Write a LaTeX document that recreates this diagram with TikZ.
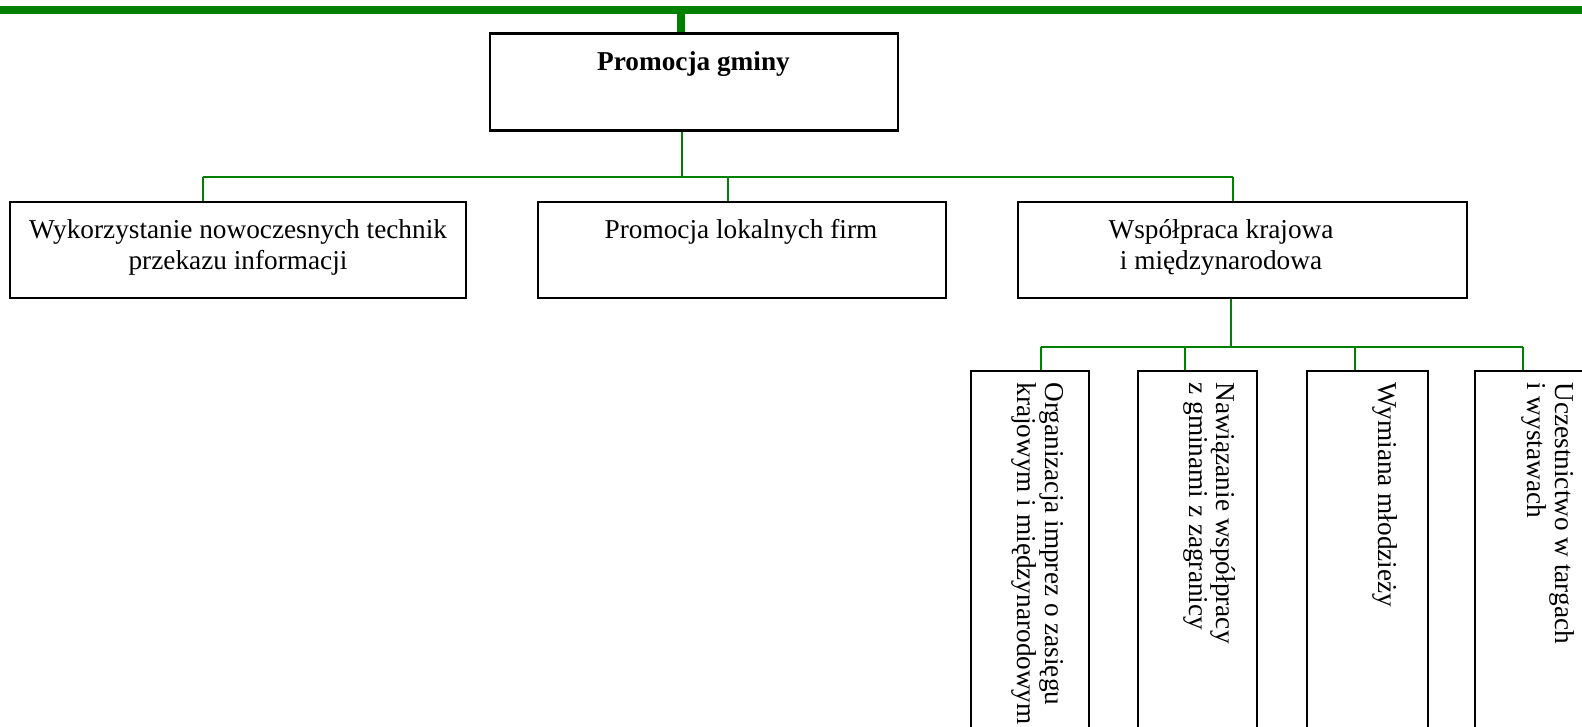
\documentclass[tikz,border=0pt]{standalone}
\usepackage{fontspec}
\setmainfont{Liberation Serif}
\usetikzlibrary{positioning}
\definecolor{leafgreen}{HTML}{008000}
\newcommand{\pxu}{0.44pt}

\begin{document}
\begin{tikzpicture}[x=0.44pt, y=-0.44pt,
    box/.style={draw, line width=0.9pt, inner sep=0pt},
    lbl/.style={font=\fontsize{12}{13.6}\selectfont, align=center, inner sep=0pt},
    vlbl/.style={font=\fontsize{12}{12.3}\selectfont, align=left, inner sep=0pt, rotate=-90, anchor=west},
    link/.style={draw=leafgreen, line width=0.8pt},
    bar/.style={draw=leafgreen, line width=3.4pt}]
    \useasboundingbox (0,0) rectangle (1582,726);
    \clip (0,0) rectangle (1582,726);

    % main box
    \node[box, minimum width=408*\pxu, minimum height=97*\pxu] (top) at (694,82) {};
    \node[lbl, font=\fontsize{12}{13.6}\selectfont\bfseries, anchor=north] (topt) at (693.5,51) {Promocja gminy};

    % second level
    \node[box, minimum width=456*\pxu, minimum height=96*\pxu] (b1) at (238,250) {};
    \node[box, minimum width=408*\pxu, minimum height=96*\pxu] (b2) at (742,250) {};
    \node[box, minimum width=449*\pxu, minimum height=96*\pxu] (b3) at (1242.5,250) {};
    \node[lbl, anchor=north] (t1) at (238,219) {Wykorzystanie nowoczesnych technik\\przekazu informacji};
    \node[lbl, anchor=north] (t2) at (741,219) {Promocja lokalnych firm};
    \node[lbl, anchor=north] (t3) at (1221,219) {Współpraca krajowa\\i międzynarodowa};

    % third level (vertical)
    \node[box, minimum width=118*\pxu, minimum height=369*\pxu] (v1) at (1030,555.5) {};
    \node[box, minimum width=119*\pxu, minimum height=369*\pxu] (v2) at (1197.5,555.5) {};
    \node[box, minimum width=121*\pxu, minimum height=369*\pxu] (v3) at (1367.5,555.5) {};
    \node[box, minimum width=119*\pxu, minimum height=369*\pxu] (v4) at (1534.5,555.5) {};
    \node[vlbl] (w1) at (1038,382) {Organizacja imprez o zasięgu\\krajowym i międzynarodowym};
    \node[vlbl] (w2) at (1209.5,382) {Nawiązanie współpracy\\z gminami z zagranicy};
    \node[vlbl] (w3) at (1385,382) {Wymiana młodzieży};
    \node[vlbl] (w4) at (1548,382) {Uczestnictwo w targach\\i wystawach};

    % green bar on top
    \coordinate (barL) at (0,10);
    \coordinate (barR) at (1582,10);
    \coordinate (j0) at (681,10);
    \draw[bar] (barL) -- (barR);
    \draw[bar] (j0) -- (j0 |- top.north);

    % links to second level
    \coordinate (j1) at (682,177);
    \coordinate (d1) at (203,177);
    \coordinate (d2) at (728,177);
    \coordinate (d3) at (1233,177);
    \draw[link] (j1 |- top.south) -- (j1);
    \draw[link] (d1) -- (d3);
    \draw[link] (d1) -- (d1 |- b1.north);
    \draw[link] (d2) -- (d2 |- b2.north);
    \draw[link] (d3) -- (d3 |- b3.north);

    % links to third level
    \coordinate (j2) at (1231,347);
    \coordinate (e1) at (1041,347);
    \coordinate (e2) at (1185,347);
    \coordinate (e3) at (1355,347);
    \coordinate (e4) at (1523,347);
    \draw[link] (j2 |- b3.south) -- (j2);
    \draw[link] (e1) -- (e4);
    \draw[link] (e1) -- (e1 |- v1.north);
    \draw[link] (e2) -- (e2 |- v2.north);
    \draw[link] (e3) -- (e3 |- v3.north);
    \draw[link] (e4) -- (e4 |- v4.north);
\end{tikzpicture}
\end{document}
